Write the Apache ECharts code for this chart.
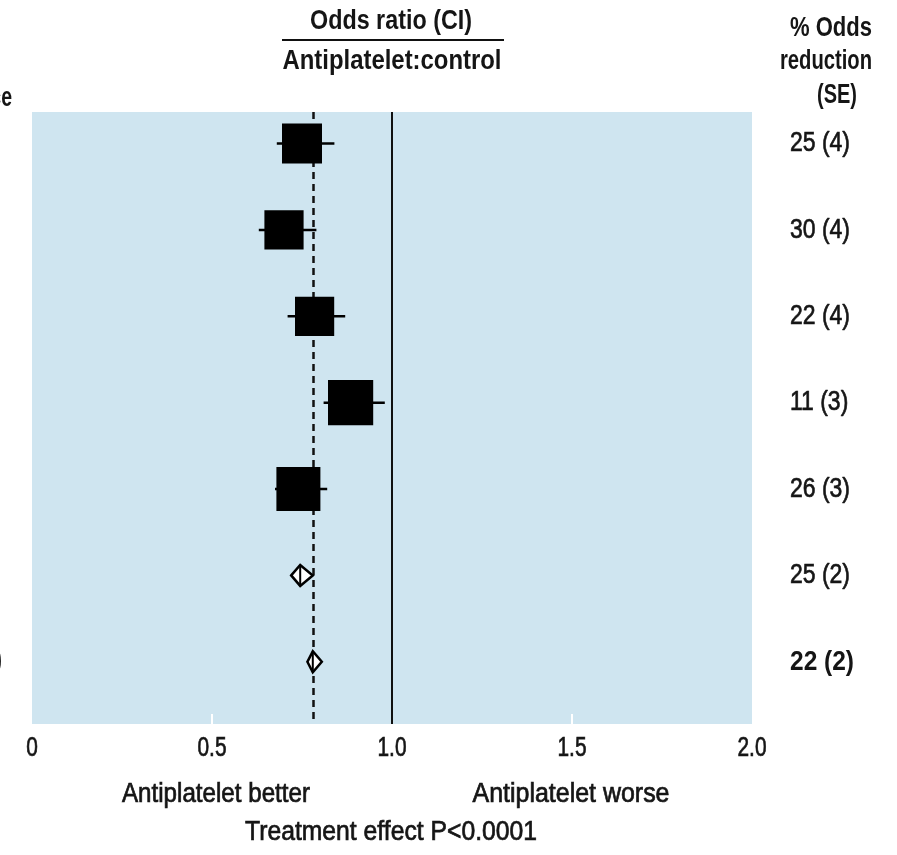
<!DOCTYPE html>
<html>
<head>
<meta charset="utf-8">
<script src="https://cdn.jsdelivr.net/npm/echarts@6/dist/echarts.min.js"></script>
<style>
html,body{margin:0;padding:0;background:#fff;}
#chart{width:897px;height:855px;}
</style>
</head>
<body>
<div id="chart"></div>
<script>
// ---- data ----
const rowIndex = [0, 1, 2, 3, 4, 5, 6];
const oddsRatio = [0.75, 0.70, 0.785, 0.885, 0.74, 0.745, 0.78];
const ciLow = [0.68, 0.63, 0.71, 0.81, 0.675, 0.72, 0.765];
const ciHigh = [0.84, 0.79, 0.87, 0.98, 0.82, 0.78, 0.805];
const markType = ['square', 'square', 'square', 'square', 'square', 'diamond', 'diamond'];
const weights = [1.0, 0.98, 0.98, 1.13, 1.1, 0, 0];
const reductionLabels = ['25 (4)', '30 (4)', '22 (4)', '11 (3)', '26 (3)', '25 (2)', '22 (2)'];
const reductionBold = [false, false, false, false, false, false, true];
const overallOR = 0.78;
const noEffect = 1.0;
const xTickValues = [0, 0.5, 1.0, 1.5, 2.0];
const xTickLabels = ['0', '0.5', '1.0', '1.5', '2.0'];

const FONT = '"Liberation Sans", Arimo, Arial, sans-serif';
const INK = '#151515';
const mctx = document.createElement('canvas').getContext('2d');
function fitScale(text, font, target) { mctx.font = font; const w = mctx.measureText(text).width; return w > 0 ? target / w : 1; }

const chart = echarts.init(document.getElementById('chart'));

const forestData = rowIndex.map((r, i) => [oddsRatio[i], r, ciLow[i], ciHigh[i], weights[i], markType[i] === 'diamond' ? 1 : 0]);
const labelData = rowIndex.map((r, i) => [0, r, i]);
const tickData = xTickValues.map((v, i) => [v, 6.72, i]);

const numFont = '28px ' + FONT;
const numFontB = 'bold 28px ' + FONT;
const numScale = fitScale('25 (4)', numFont, 60);
const numScaleB = fitScale('22 (2)', numFontB, 64);
const tickFont = '28px ' + FONT;
const tickScale = fitScale('1.0', tickFont, 29);

function narrow(text, x, y, font, width, align, heavy) {
  return {
    type: 'text', x: x, y: y, scaleX: fitScale(text, font, width),
    style: { x: 0, y: 0, text: text, font: font, fill: INK, stroke: heavy ? INK : null, lineWidth: heavy ? 0.7 : 0,
             textAlign: align || 'center', textVerticalAlign: 'middle' }
  };
}

const hb = 'bold 28px ' + FONT;
const rg = '27px ' + FONT;

const option = {
  animation: false,
  backgroundColor: '#ffffff',
  grid: {
    left: 32, right: 145, top: 112, bottom: 131,
    show: true, backgroundColor: '#cfe5f0', borderWidth: 0
  },
  xAxis: {
    type: 'value', min: 0, max: 2, interval: 0.5,
    axisLine: { show: false, onZero: false },
    axisTick: { show: true, inside: true, length: 10, customValues: [0.5, 1.5], lineStyle: { color: '#ffffff', width: 2 } },
    splitLine: { show: false },
    axisLabel: { show: false }
  },
  yAxis: {
    type: 'value', min: -0.365, max: 6.72, inverse: true, show: false
  },
  series: [
    {
      type: 'custom',
      data: forestData,
      z: 5,
      markLine: {
        silent: true, symbol: 'none', label: { show: false },
        data: [
          { xAxis: overallOR, lineStyle: { color: '#111', width: 2.5, type: [7, 5] } },
          { xAxis: noEffect, lineStyle: { color: '#111', width: 2, type: 'solid' } }
        ]
      },
      renderItem: (params, api) => {
        const x = api.value(0), y = api.value(1), lo = api.value(2), hi = api.value(3), w = api.value(4), isDia = api.value(5);
        const c = api.coord([x, y]);
        const pl = api.coord([lo, y]);
        const ph = api.coord([hi, y]);
        if (isDia) {
          const h = 10.5;
          return {
            type: 'group', children: [
              { type: 'polygon', shape: { points: [[pl[0], c[1]], [c[0], c[1] - h], [ph[0], c[1]], [c[0], c[1] + h]] },
                style: { fill: '#ffffff', stroke: '#000', lineWidth: 2.5 } },
              { type: 'line', shape: { x1: c[0], y1: c[1] - h, x2: c[0], y2: c[1] + h }, style: { stroke: '#000', lineWidth: 2 } }
            ]
          };
        }
        const s = 40 * w;
        return {
          type: 'group', children: [
            { type: 'line', shape: { x1: pl[0], y1: c[1], x2: ph[0], y2: c[1] }, style: { stroke: '#000', lineWidth: 2.5 } },
            { type: 'rect', shape: { x: c[0] - s / 2, y: c[1] - s / 2, width: s, height: s }, style: { fill: '#000' } }
          ]
        };
      }
    },
    {
      type: 'custom',
      data: labelData,
      clip: false,
      renderItem: (params, api) => {
        const c = api.coord([0, api.value(1)]);
        const i = api.value(2);
        const b = reductionBold[i];
        return {
          type: 'text', x: 790, y: c[1], scaleX: b ? numScaleB : numScale,
          style: {
            x: 0, y: 0, text: reductionLabels[i], fill: INK, stroke: b ? null : INK, lineWidth: b ? 0 : 0.7,
            font: b ? numFontB : numFont,
            textAlign: 'left', textVerticalAlign: 'middle'
          }
        };
      }
    },
    {
      type: 'custom',
      data: tickData,
      clip: false,
      renderItem: (params, api) => {
        const c = api.coord([api.value(0), api.value(1)]);
        return {
          type: 'text', x: c[0], y: c[1] + 24, scaleX: tickScale,
          style: { x: 0, y: 0, text: xTickLabels[api.value(2)], font: tickFont, fill: INK, stroke: INK, lineWidth: 0.7,
                   textAlign: 'center', textVerticalAlign: 'middle' }
        };
      }
    }
  ],
  graphic: [
    narrow('Odds ratio (CI)', 391, 21, hb, 162, 'center'),
    { type: 'line', shape: { x1: 282, y1: 40, x2: 504, y2: 40 }, style: { stroke: '#111', lineWidth: 2 } },
    narrow('Antiplatelet:control', 392, 61, hb, 219, 'center'),
    narrow('% Odds', 831, 28, hb, 82, 'center'),
    narrow('reduction', 826, 61, hb, 92, 'center'),
    narrow('(SE)', 857, 95, hb, 40, 'right'),
    narrow('Variance', 12, 98, hb, 80, 'right'),
    narrow(')', 2, 660, hb, 7, 'right'),
    narrow('Antiplatelet better', 216, 795, rg, 188, 'center', true),
    narrow('Antiplatelet worse', 571, 795, rg, 197, 'center', true),
    narrow('Treatment effect P<0.0001', 391, 833, rg, 292, 'center', true)
  ]
};
chart.setOption(option);
</script>
</body>
</html>
